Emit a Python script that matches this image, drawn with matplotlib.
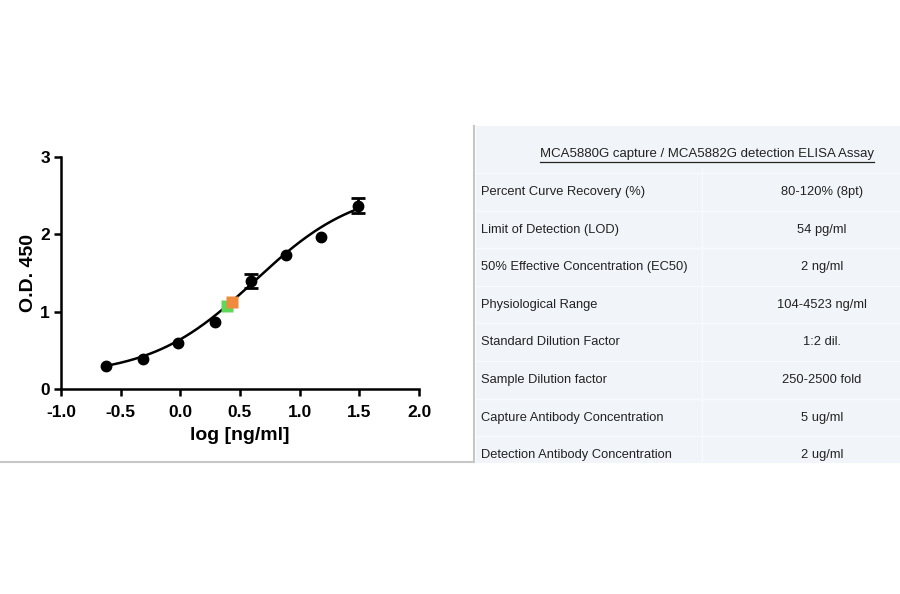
import numpy as np
import matplotlib
matplotlib.use("Agg")
import matplotlib.pyplot as plt

plt.rcParams['font.family'] = ['Liberation Sans', 'DejaVu Sans']

# standard curve data (log concentration vs OD450)
log_conc = [-0.625, -0.315, -0.017, 0.288, 0.590, 0.883, 1.182, 1.487]
od450 = [0.30, 0.39, 0.60, 0.87, 1.40, 1.73, 1.97, 2.37]
od_err = [0.0, 0.0, 0.0, 0.0, 0.09, 0.0, 0.0, 0.10]

# 4PL fit parameters
fit_bottom = 0.17
fit_top = 2.62
fit_logec50 = 0.62
fit_hill = 1.0

# two highlighted samples
sample_x = [0.388, 0.430]
sample_y = [1.08, 1.12]
sample_colors = ['#5fd85a', '#f08a3c']

# assay table
table_title = 'MCA5880G capture / MCA5882G detection ELISA Assay'
row_labels = ['Percent Curve Recovery (%)', 'Limit of Detection (LOD)',
              '50% Effective Concentration (EC50)', 'Physiological Range',
              'Standard Dilution Factor', 'Sample Dilution factor',
              'Capture Antibody Concentration', 'Detection Antibody Concentration']
row_values = ['80-120% (8pt)', '54 pg/ml', '2 ng/ml', '104-4523 ng/ml',
              '1:2 dil.', '250-2500 fold', '5 ug/ml', '2 ug/ml']

fig = plt.figure(figsize=(9, 5.94), dpi=100)

# background layer in pixel coordinates
bg = fig.add_axes([0, 0, 1, 1])
bg.set_xlim(0, 900)
bg.set_ylim(594, 0)
bg.axis('off')
bg.set_zorder(0)

bg.fill_between([476, 900], 126, 463, color='#f1f5fa', lw=0)
bg.plot([0, 474], [462, 462], color='#c6c6c6', lw=1.5)
bg.plot([474, 474], [126, 462], color='#c6c6c6', lw=1.5)
bg.plot([702, 702], [168, 463], color='#f8fbfd', lw=1)

row_y = 192 + 37.6 * np.arange(len(row_labels))
for i, (lab, val) in enumerate(zip(row_labels, row_values)):
    bg.text(481, row_y[i], lab, fontsize=9.3, color='#222222', va='center', ha='left')
    bg.text(822, row_y[i], val, fontsize=9.3, color='#222222', va='center', ha='center')
    bg.plot([476, 900], [row_y[i] - 19, row_y[i] - 19], color='#f8fbfd', lw=1)

t = bg.text(707, 154, table_title, fontsize=9.5, color='#222222', va='center', ha='center')
fig.canvas.draw()
bb = t.get_window_extent().transformed(bg.transData.inverted())
bg.plot([bb.x0, bb.x1], [bb.y0 + 1.5, bb.y0 + 1.5], color='#222222', lw=0.9)

# standard curve
ax = fig.add_axes([61 / 900, 204.7 / 594, 358 / 900, 232.6 / 594])
ax.set_zorder(1)
ax.patch.set_alpha(0)

xs = np.linspace(-0.64, 1.5, 300)
ys = fit_bottom + (fit_top - fit_bottom) / (1 + 10 ** ((fit_logec50 - xs) * fit_hill))
ax.plot(xs, ys, color='black', lw=1.8, zorder=2)
ax.plot(log_conc, od450, 'o', color='black', ms=7.5, zorder=3)
err_idx = [i for i, e in enumerate(od_err) if e > 0]
ax.errorbar([log_conc[i] for i in err_idx], [od450[i] for i in err_idx],
            yerr=[od_err[i] for i in err_idx], fmt='none', ecolor='black',
            capsize=5, capthick=2, elinewidth=2, zorder=3)
for sx, sy, sc in zip(sample_x, sample_y, sample_colors):
    ax.plot(sx, sy, 's', color=sc, ms=8, mec='none', zorder=4)

ax.set_xlim(-1.0, 2.0)
ax.set_ylim(0, 3)
ax.set_xticks(np.arange(-1.0, 2.01, 0.5))
ax.set_xticklabels(['%.1f' % v for v in np.arange(-1.0, 2.01, 0.5)])
ax.set_yticks([0, 1, 2, 3])
for s in ['top', 'right']:
    ax.spines[s].set_visible(False)
for s in ['left', 'bottom']:
    ax.spines[s].set_linewidth(1.8)
ax.tick_params(width=1.8, length=5, labelsize=12.5)
ax.tick_params(axis='x', pad=6)
ax.tick_params(axis='y', pad=3)
for lbl in ax.get_xticklabels() + ax.get_yticklabels():
    lbl.set_fontweight('bold')
ax.set_xlabel('log [ng/ml]', fontsize=14, fontweight='bold', labelpad=5)
ax.set_ylabel('O.D. 450', fontsize=14, fontweight='bold', labelpad=2)

fig.savefig('out.png', dpi=100)
